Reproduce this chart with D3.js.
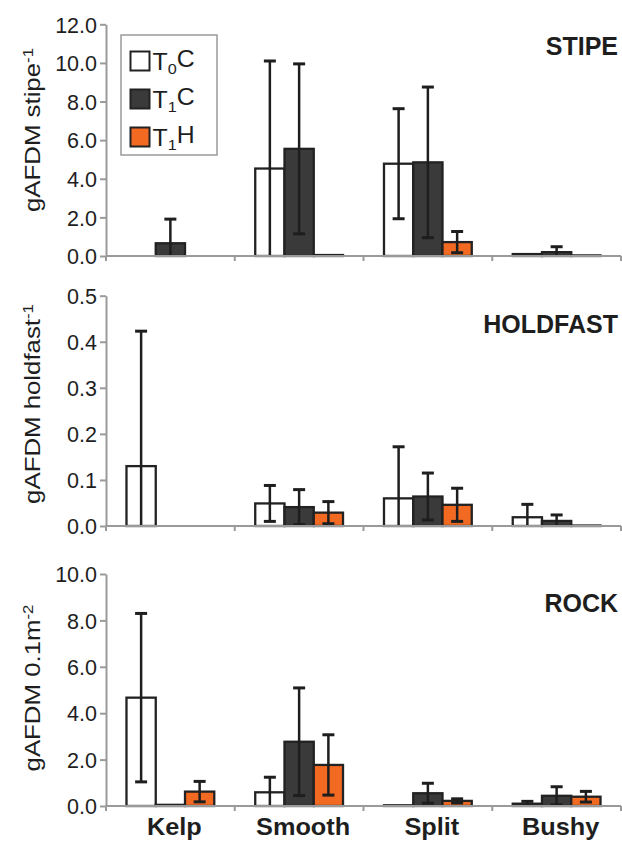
<!DOCTYPE html>
<html><head><meta charset="utf-8">
<script src="https://cdn.jsdelivr.net/npm/d3@7"></script>
<style>
body{margin:0;background:#fff}
svg{display:block}
text{font-family:"Liberation Sans",Arial,Helvetica,sans-serif;fill:#1e1e1e}
</style>
</head><body>
<svg id="c" width="622" height="841"></svg>
<script>
// ---- data ----
const categories = ["Kelp", "Smooth", "Split", "Bushy"];
const series = ["T0C", "T1C", "T1H"];
const seriesColors = ["#ffffff", "#3a3a3a", "#f26a22"];

// rows = series (T0C, T1C, T1H), columns = categories
const stipeMean = [[0, 4.53, 4.78, 0.1], [0.66, 5.55, 4.85, 0.2], [0, 0.05, 0.72, 0.03]];
const stipeSD   = [[0, 5.57, 2.85, 0], [1.25, 4.4, 3.9, 0.28], [0, 0, 0.55, 0]];
const stipeTicks = [0, 2, 4, 6, 8, 10, 12];

const holdMean = [[0.130, 0.049, 0.060, 0.019], [0, 0.041, 0.064, 0.011], [0, 0.029, 0.046, 0.001]];
const holdSD   = [[0.293, 0.039, 0.112, 0.028], [0, 0.038, 0.051, 0.013], [0, 0.024, 0.036, 0]];
const holdTicks = [0, 0.1, 0.2, 0.3, 0.4, 0.5];

const rockMean = [[4.67, 0.59, 0.03, 0.1], [0.05, 2.77, 0.55, 0.44], [0.62, 1.77, 0.22, 0.4]];
const rockSD   = [[3.63, 0.65, 0, 0.1], [0, 2.32, 0.43, 0.39], [0.44, 1.3, 0.09, 0.23]];
const rockTicks = [0, 2, 4, 6, 8, 10];

const panelTitles = ["STIPE", "HOLDFAST", "ROCK"];
const yTitles = [["gAFDM stipe", "-1"], ["gAFDM holdfast", "-1"], ["gAFDM 0.1m", "-2"]];

// ---- layout ----
const svg = d3.select("#c");
const axisColor = "#9a9a9a";
const ink = "#1e1e1e";

const x0 = d3.scaleBand().domain(categories).range([106, 621]).paddingInner(0).paddingOuter(0);
const x1 = d3.scaleBand().domain(series).range([0, x0.bandwidth()]).paddingInner(0).paddingOuter(0.7);

const panels = [
  {title: panelTitles[0], yt: yTitles[0], mean: stipeMean, sd: stipeSD, ticks: stipeTicks, top: 24.3, bottom: 256, titleY: 55, ytCenter: 130},
  {title: panelTitles[1], yt: yTitles[1], mean: holdMean, sd: holdSD, ticks: holdTicks, top: 295.7, bottom: 526, titleY: 333, ytCenter: 404},
  {title: panelTitles[2], yt: yTitles[2], mean: rockMean, sd: rockSD, ticks: rockTicks, top: 574, bottom: 806, titleY: 611.5, ytCenter: 688}
];

panels.forEach((p, pi) => {
  const y = d3.scaleLinear().domain([0, d3.max(p.ticks)]).range([p.bottom, p.top]);
  const g = svg.append("g");

  // bars
  series.forEach((s, si) => {
    categories.forEach((c, ci) => {
      const v = p.mean[si][ci];
      if (v <= 0) return;
      g.append("rect")
        .attr("x", x0(c) + x1(s))
        .attr("y", y(v))
        .attr("width", x1.bandwidth())
        .attr("height", y(0) - y(v))
        .attr("fill", seriesColors[si])
        .attr("stroke", "#222")
        .attr("stroke-width", 2.3);
    });
  });

  // error bars
  series.forEach((s, si) => {
    categories.forEach((c, ci) => {
      const v = p.mean[si][ci], e = p.sd[si][ci];
      if (e <= 0) return;
      const cx = x0(c) + x1(s) + x1.bandwidth() / 2;
      const hi = v + e, lo = Math.max(0, v - e);
      g.append("line").attr("x1", cx).attr("x2", cx).attr("y1", y(hi)).attr("y2", y(lo))
        .attr("stroke", ink).attr("stroke-width", 2.5);
      g.append("line").attr("x1", cx - 6).attr("x2", cx + 6).attr("y1", y(hi)).attr("y2", y(hi))
        .attr("stroke", ink).attr("stroke-width", 3);
      if (v - e > 0) {
        g.append("line").attr("x1", cx - 6).attr("x2", cx + 6).attr("y1", y(lo)).attr("y2", y(lo))
          .attr("stroke", ink).attr("stroke-width", 3);
      }
    });
  });

  // y axis
  const ya = g.append("g").attr("transform", `translate(${x0.range()[0]},0)`)
    .call(d3.axisLeft(y).tickValues(p.ticks).tickFormat(d3.format(".1f")).tickSize(6).tickSizeOuter(0).tickPadding(3));
  ya.select(".domain").attr("stroke", axisColor).attr("stroke-width", 2);
  ya.selectAll(".tick line").attr("stroke", axisColor).attr("stroke-width", 2);
  ya.selectAll(".tick text").style("font-size", "21.5px").attr("fill", ink).attr("dy", "0.36em");

  // x axis (group boundary ticks)
  const bounds = categories.map(c => x0(c)).concat([x0.range()[1]]);
  const xa = g.append("g").attr("transform", `translate(0,${y(0)})`);
  xa.append("line").attr("x1", x0.range()[0]).attr("x2", x0.range()[1]).attr("y1", 0).attr("y2", 0)
    .attr("stroke", axisColor).attr("stroke-width", 2);
  xa.selectAll("line.b").data(bounds).join("line").attr("class", "b")
    .attr("x1", d => d).attr("x2", d => d).attr("y1", 0).attr("y2", 5)
    .attr("stroke", axisColor).attr("stroke-width", 2);

  // panel title
  g.append("text").attr("x", 618).attr("y", p.titleY).attr("text-anchor", "end")
    .style("font-size", "25px").style("font-weight", "bold").text(p.title);

  // y title
  const yt = g.append("text")
    .attr("transform", `translate(40,${p.ytCenter}) rotate(-90) scale(1.2,1)`)
    .attr("text-anchor", "middle").style("font-size", "21.5px");
  yt.append("tspan").text(p.yt[0]);
  yt.append("tspan").attr("dy", "-0.5em").style("font-size", "14px").text(p.yt[1]);

  // category labels on the bottom panel
  if (pi === panels.length - 1) {
    categories.forEach(c => {
      g.append("text")
        .attr("transform", `translate(${x0(c) + x0.bandwidth() / 2 + 4},835) scale(1.1,1)`)
        .attr("text-anchor", "middle").style("font-size", "23px").style("font-weight", "bold").text(c);
    });
  }
});

// ---- legend ----
const lg = svg.append("g");
lg.append("rect").attr("x", 121).attr("y", 35).attr("width", 96).attr("height", 120)
  .attr("fill", "#fff").attr("stroke", axisColor).attr("stroke-width", 1.5);
const legendSub = ["0", "1", "1"];
const legendEnd = ["C", "C", "H"];
series.forEach((s, i) => {
  const cy = 61 + i * 38;
  lg.append("rect").attr("x", 130.5).attr("y", cy - 9.5).attr("width", 19).attr("height", 19)
    .attr("fill", seriesColors[i]).attr("stroke", "#222").attr("stroke-width", 2);
  const t = lg.append("text").attr("transform", `translate(152.5,${cy + 8.5}) scale(1.08,1)`).style("font-size", "23px");
  t.append("tspan").text("T");
  t.append("tspan").attr("dy", "0.3em").style("font-size", "15px").text(legendSub[i]);
  t.append("tspan").attr("dy", "-0.3em").text(legendEnd[i]);
});
</script>
</body></html>
